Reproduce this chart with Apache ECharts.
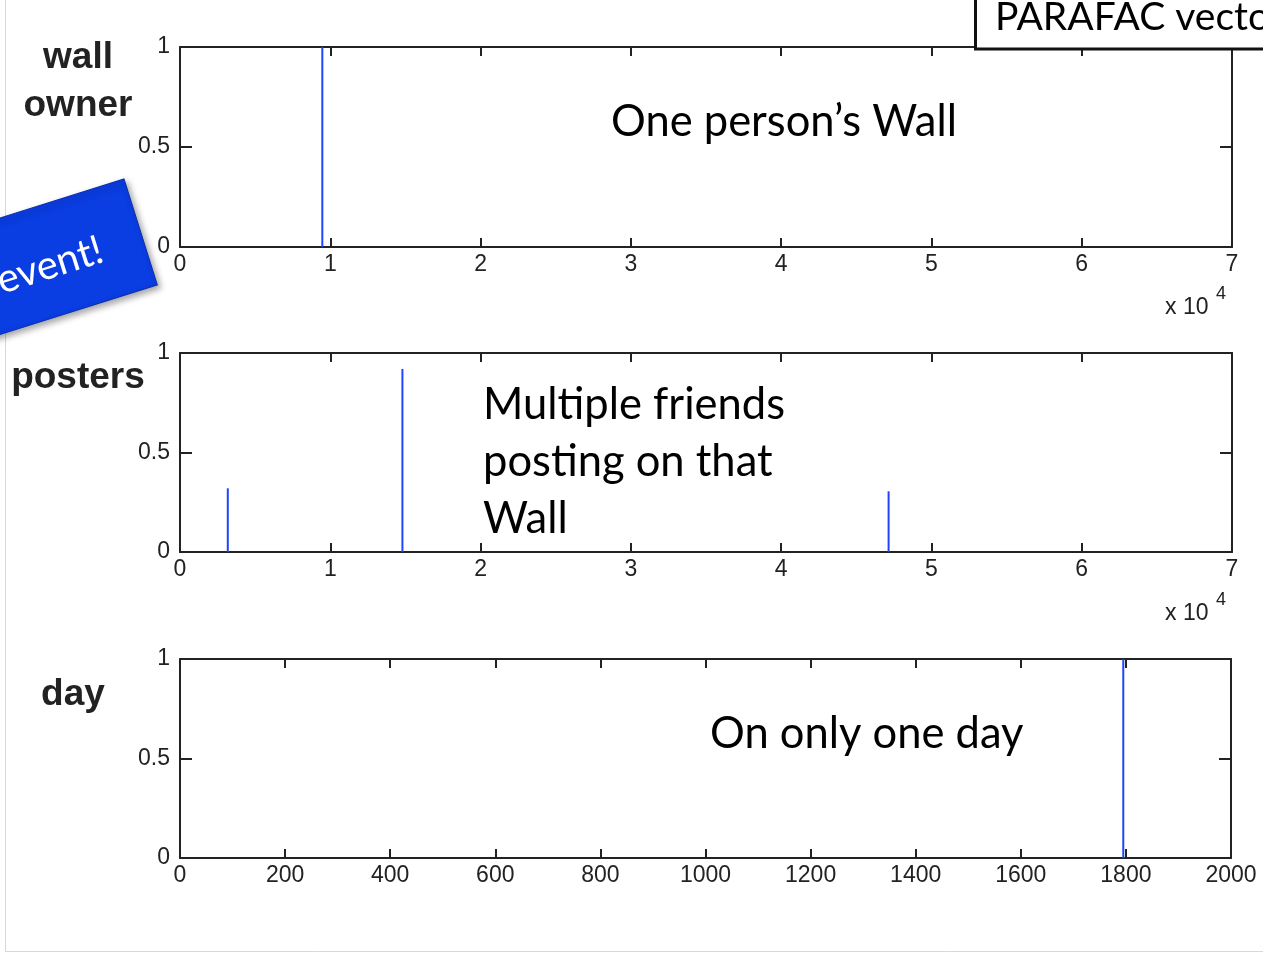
<!DOCTYPE html>
<html><head><meta charset="utf-8">
<script src="https://cdn.jsdelivr.net/npm/echarts@6/dist/echarts.min.js"></script>
<style>html,body{margin:0;padding:0;background:#fff}#c{width:1263px;height:954px}</style>
</head><body><div id="c"></div>
<script>
// ---- data ----
const wallOwnerX = [9470];
const wallOwnerY = [1];
const postersX = [3180, 14800, 47150];
const postersY = [0.32, 0.92, 0.305];
const dayX = [1795];
const dayY = [1];
const panelLabels = ['wall\nowner', 'posters', 'day'];
const notes = ['One person\u2019s Wall', 'Multiple friends\nposting on that\nWall', 'On only one day'];
const bigXMax = 70000, bigXStep = 10000;
const dayXMax = 2000, dayXStep = 200;
const yMax = 1, yStep = 0.5;

// ---- layout ----
const grids = [
  {left: 180, top: 47, width: 1052, height: 200},
  {left: 180, top: 353, width: 1052, height: 199},
  {left: 180, top: 659, width: 1051, height: 199}
];
const INK = '#222';
const lineStyle = {color: INK, width: 2};
const labelFont = {fontFamily: 'Liberation Sans', fontSize: 23, color: INK};

const xAxes = [], yAxes = [];
const xSpecs = [
  {max: bigXMax, step: bigXStep, fmt: v => String(v / 10000)},
  {max: bigXMax, step: bigXStep, fmt: v => String(v / 10000)},
  {max: dayXMax, step: dayXStep, fmt: v => String(v)}
];
grids.forEach((g, i) => {
  const s = xSpecs[i];
  ['bottom', 'top'].forEach(pos => {
    xAxes.push({
      type: 'value', gridIndex: i, position: pos, min: 0, max: s.max, interval: s.step,
      axisLine: {show: true, onZero: false, lineStyle}, splitLine: {show: false},
      axisTick: {show: true, inside: true, length: 9, lineStyle},
      axisLabel: pos === 'bottom' ? Object.assign({show: true, margin: 6, formatter: s.fmt}, labelFont) : {show: false}
    });
  });
  ['left', 'right'].forEach(pos => {
    yAxes.push({
      type: 'value', gridIndex: i, position: pos, min: 0, max: yMax, interval: yStep,
      axisLine: {show: true, onZero: false, lineStyle}, splitLine: {show: false},
      axisTick: {show: true, inside: true, length: 12, lineStyle},
      axisLabel: pos === 'left' ? Object.assign({show: true, margin: 10, formatter: v => String(v)}, labelFont) : {show: false}
    });
  });
});

function stem(gi, xs, ys) {
  return {
    type: 'custom', xAxisIndex: gi * 2, yAxisIndex: gi * 2, silent: true, animation: false,
    data: xs.map((x, k) => [x, ys[k]]),
    renderItem(params, api) {
      const p0 = api.coord([api.value(0), 0]);
      const p1 = api.coord([api.value(0), api.value(1)]);
      return {type: 'line', shape: {x1: p0[0], y1: p0[1], x2: p1[0], y2: p1[1]},
              style: {stroke: '#1f44ff', lineWidth: 2}};
    }
  };
}

const noteFont = 'Lato';
const graphics = [
  // slide border
  {type: 'line', shape: {x1: 5.5, y1: 0, x2: 5.5, y2: 951}, style: {stroke: '#d8d8d8', lineWidth: 1}, z: 1},
  {type: 'line', shape: {x1: 5, y1: 951.5, x2: 1263, y2: 951.5}, style: {stroke: '#d8d8d8', lineWidth: 1}, z: 1},
  // panel labels
  {type: 'text', x: 78, y: 82, style: {text: panelLabels[0], fontFamily: 'Liberation Sans', fontWeight: 'bold', fontSize: 37, lineHeight: 48, fill: INK, align: 'center', verticalAlign: 'middle'}, z: 10},
  {type: 'text', x: 78, y: 378, style: {text: panelLabels[1], fontFamily: 'Liberation Sans', fontWeight: 'bold', fontSize: 37, fill: INK, align: 'center', verticalAlign: 'middle'}, z: 10},
  {type: 'text', x: 73, y: 695, style: {text: panelLabels[2], fontFamily: 'Liberation Sans', fontWeight: 'bold', fontSize: 37, fill: INK, align: 'center', verticalAlign: 'middle'}, z: 10},
  // annotations
  {type: 'text', x: 611, y: 122, style: {text: notes[0], fontFamily: noteFont, fontSize: 43.5, fill: '#000', align: 'left', verticalAlign: 'middle'}, z: 10},
  {type: 'text', x: 483, y: 462, style: {text: notes[1], fontFamily: noteFont, fontSize: 43.5, lineHeight: 57, fill: '#000', align: 'left', verticalAlign: 'middle'}, z: 10},
  {type: 'text', x: 710, y: 734, style: {text: notes[2], fontFamily: noteFont, fontSize: 43.5, fill: '#000', align: 'left', verticalAlign: 'middle'}, z: 10},
  // x10^4 exponent labels
  {type: 'text', x: 1165, y: 308, style: {text: 'x 10', fontFamily: 'Liberation Sans', fontSize: 23, fill: INK, align: 'left', verticalAlign: 'middle'}, z: 10},
  {type: 'text', x: 1216, y: 294, style: {text: '4', fontFamily: 'Liberation Sans', fontSize: 18, fill: INK, align: 'left', verticalAlign: 'middle'}, z: 10},
  {type: 'text', x: 1165, y: 614, style: {text: 'x 10', fontFamily: 'Liberation Sans', fontSize: 23, fill: INK, align: 'left', verticalAlign: 'middle'}, z: 10},
  {type: 'text', x: 1216, y: 600, style: {text: '4', fontFamily: 'Liberation Sans', fontSize: 18, fill: INK, align: 'left', verticalAlign: 'middle'}, z: 10},
  // PARAFAC box
  {type: 'rect', shape: {x: 975.5, y: -10, width: 400, height: 59}, style: {fill: '#fff', stroke: '#111', lineWidth: 3}, z: 20},
  {type: 'text', x: 995, y: 17, style: {text: 'PARAFAC vectors', fontFamily: noteFont, fontSize: 39, fill: '#000', align: 'left', verticalAlign: 'middle'}, z: 21},
  // rotated blue callout
  {type: 'group', x: 124, y: 179, rotation: 0.305, z: 30, children: [
    {type: 'rect', shape: {x: -330, y: 0, width: 330, height: 111},
     style: {fill: '#0a3de2', stroke: '#0a2fb0', lineWidth: 1, shadowBlur: 6, shadowColor: 'rgba(0,0,0,0.35)', shadowOffsetX: 3, shadowOffsetY: 3}, z: 30},
    {type: 'text', x: -42, y: 60, style: {text: 'event!', fontFamily: noteFont, fontSize: 40, fill: '#fff', align: 'right', verticalAlign: 'middle'}, z: 31}
  ]}
];

const chart = echarts.init(document.getElementById('c'), null, {renderer: 'canvas'});
chart.setOption({
  animation: false,
  backgroundColor: '#fff',
  grid: grids,
  xAxis: xAxes,
  yAxis: yAxes,
  series: [stem(0, wallOwnerX, wallOwnerY), stem(1, postersX, postersY), stem(2, dayX, dayY)],
  graphic: {elements: graphics}
});
</script>
</body></html>
